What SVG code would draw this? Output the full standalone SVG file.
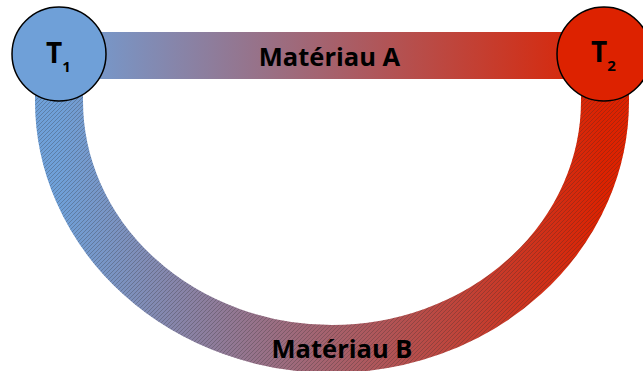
<svg xmlns="http://www.w3.org/2000/svg" width="643" height="371" viewBox="0 0 643 371">
  <style>
    .lbl { font-family: "Open Sans", "Noto Sans", "Liberation Sans", sans-serif; font-weight: bold; fill: #000; }
    .node { stroke: #000; stroke-width: 1.5; }
  </style>
  <defs>
    <linearGradient id="grad" gradientUnits="userSpaceOnUse" x1="59" y1="0" x2="604" y2="0">
      <stop offset="0" stop-color="#6fa0d8"/>
      <stop offset="1" stop-color="#dd2200"/>
    </linearGradient>
    <pattern id="hatch" patternUnits="userSpaceOnUse" width="4" height="4">
      <path d="M-1,1 L1,-1 M0,4 L4,0 M3,5 L5,3" stroke="#2a2a2a" stroke-width="0.7" stroke-opacity="0.4"/>
    </pattern>
  </defs>
  <rect width="643" height="371" fill="#fff"/>
  <g id="connectors">
    <g id="materiau-B">
      <path d="M59,54 L59,101 A273,248 0 0 0 605,101 L605,54" fill="none" stroke="url(#grad)" stroke-width="48"/>
      <path d="M59,54 L59,101 A273,248 0 0 0 605,101 L605,54" fill="none" stroke="url(#hatch)" stroke-width="48"/>
      <text class="lbl" x="342" y="358" font-size="25.5" text-anchor="middle">Matériau B</text>
    </g>
    <g id="materiau-A">
      <rect x="59" y="32" width="546" height="47" fill="url(#grad)"/>
      <text class="lbl" x="329.5" y="66" font-size="25.5" text-anchor="middle">Matériau A</text>
    </g>
  </g>
  <g id="T1">
    <circle class="node" cx="59" cy="54" r="47" fill="#6fa0d8"/>
    <text class="lbl" x="46" y="63" font-size="28">T<tspan font-size="15" dy="9">1</tspan></text>
  </g>
  <g id="T2">
    <circle class="node" cx="604" cy="54" r="47" fill="#dd2200"/>
    <text class="lbl" x="591" y="62" font-size="28">T<tspan font-size="15" dy="9">2</tspan></text>
  </g>
</svg>
